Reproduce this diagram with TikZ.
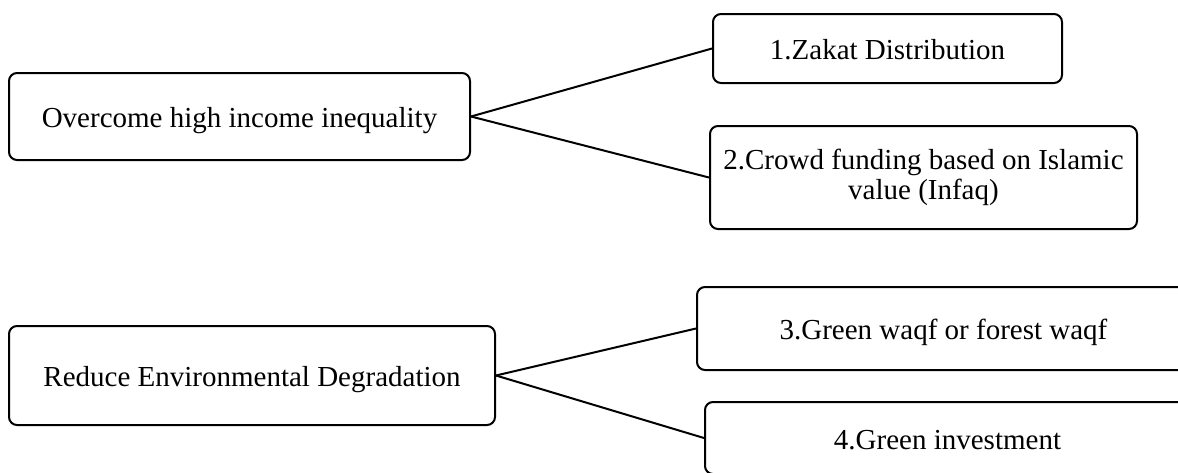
\documentclass[tikz,border=0pt]{standalone}
\usepackage{fontspec}
\setmainfont{Liberation Serif}
\begin{document}
\begin{tikzpicture}[x=1pt,y=-1pt,
  box/.style={draw=black, line width=2pt, rounded corners=8pt, fill=white,
    inner sep=0pt, align=center, font=\fontsize{29}{30}\selectfont},
  oneline/.style={text height=25pt, text depth=3pt},
  link/.style={draw=black, line width=2pt}]
\useasboundingbox (0,0) rectangle (1178,472);
\clip (0,0) rectangle (1178,472);
\node[box, oneline, minimum width=461pt, minimum height=87pt] (A) at (239.5,116.5) {Overcome high income inequality};
\node[box, oneline, minimum width=349pt, minimum height=69pt] (n1) at (887.5,48.5) {1.Zakat Distribution};
\node[box, minimum width=427pt, minimum height=103pt] (n2) at (923.5,177.5) {2.Crowd funding based on Islamic\\value (Infaq)};
\node[box, oneline, minimum width=486pt, minimum height=99pt] (B) at (252,375.5) {Reduce Environmental Degradation};
\node[box, oneline, minimum width=493pt, minimum height=83pt] (n3) at (943.5,328.5) {3.Green waqf or forest waqf};
\node[box, oneline, minimum width=485pt, minimum height=72pt] (n4) at (947.5,438) {4.Green investment};
\draw[link] (A.east) -- (n1.west);
\draw[link] (A.east) -- (n2.west);
\draw[link] (B.east) -- (n3.west);
\draw[link] (B.east) -- (n4.west);
\end{tikzpicture}
\end{document}
